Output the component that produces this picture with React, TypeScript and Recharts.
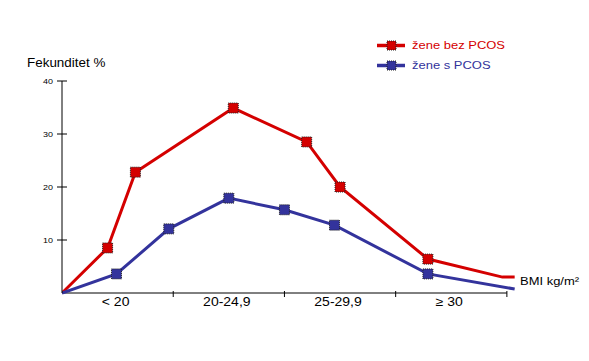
import React from 'react';
import { LineChart, Line, XAxis, YAxis, ReferenceLine } from 'recharts';

// BMI position along the axis: 0..4, one unit per category band
const bmiBands = ['< 20', '20-24,9', '25-29,9', '≥ 30'];
const yTicks = [10, 20, 30, 40];
const seriesNames = ['žene bez PCOS', 'žene s PCOS'];

const withoutPcosX = [0, 0.41, 0.66, 1.54, 2.2, 2.5, 3.29, 3.96, 4.07];
const withoutPcosY = [0, 8.5, 22.8, 34.9, 28.5, 20.0, 6.4, 3.0, 3.0];
const withoutPcosMarked = [false, true, true, true, true, true, true, false, false];

const withPcosX = [0, 0.49, 0.96, 1.5, 2.0, 2.45, 3.29, 4.07];
const withPcosY = [0, 3.6, 12.1, 17.9, 15.7, 12.8, 3.6, 0.75];
const withPcosMarked = [false, true, true, true, true, true, true, false];

const RED = '#d40000';
const BLUE = '#33339c';
const FONT = '"Liberation Sans", Arial, sans-serif';
const STRETCH = 1.12; // the source picture is a bit wider than tall

const build = (xs: number[], ys: number[], marked: boolean[]) =>
  xs.map((x, i) => ({ x, y: ys[i], marked: marked[i] }));

const redData = build(withoutPcosX, withoutPcosY, withoutPcosMarked);
const blueData = build(withPcosX, withPcosY, withPcosMarked);

const squareDot = (fill: string) => (props: any) => {
  const { cx, cy, payload, index } = props;
  if (!payload || !payload.marked) return <g key={`d-${index}`} />;
  return (
    <rect
      key={`d-${index}`}
      x={cx - 5}
      y={cy - 5}
      width={10}
      height={10}
      fill={fill}
      stroke="#222"
      strokeWidth={1}
      strokeDasharray="1 1"
    />
  );
};

const Stretched = ({ x, y, size, anchor = 'start', fill = '#000', children }: any) => (
  <text
    transform={`translate(${x},${y}) scale(${STRETCH},1)`}
    x={0}
    y={0}
    textAnchor={anchor}
    fontSize={size}
    fontFamily={FONT}
    fill={fill}
  >
    {children}
  </text>
);

const XTick = ({ x, y, payload }: any) => {
  const v = payload.value;
  if (Number.isInteger(v)) {
    return <line x1={x} x2={x} y1={y - 2} y2={y + 4} stroke="#000" strokeWidth={1} />;
  }
  return (
    <Stretched x={x - 2} y={y + 13} size={12.5} anchor="middle">
      {bmiBands[Math.floor(v)]}
    </Stretched>
  );
};

const YTick = ({ x, y, payload }: any) => (
  <g>
    <line x1={x - 5} x2={x + 5} y1={y} y2={y} stroke="#000" strokeWidth={1} />
    <Stretched x={x - 9} y={y + 3} size={8} anchor="end">
      {payload.value}
    </Stretched>
  </g>
);

const Overlay = () => (
  <svg
    width={589}
    height={361}
    style={{ position: 'absolute', left: 0, top: 0, pointerEvents: 'none' }}
  >
    <Stretched x={27} y={67} size={12}>Fekunditet %</Stretched>
    <Stretched x={520} y={284.5} size={11.6}>BMI kg/m²</Stretched>
    {[RED, BLUE].map((color, i) => {
      const cy = 45.5 + i * 20;
      return (
        <g key={color}>
          <line x1={377} x2={405} y1={cy} y2={cy} stroke={color} strokeWidth={3.5} />
          <rect x={387} y={cy - 4.5} width={9} height={9} fill={color} stroke="#222" strokeDasharray="1 1" />
          <Stretched x={412} y={cy + 3} size={11.6} fill={color}>
            {seriesNames[i]}
          </Stretched>
        </g>
      );
    })}
  </svg>
);

export default function App() {
  return (
    <div style={{ position: 'absolute', left: 0, top: 0, width: 589, height: 361, background: '#fff' }}>
      <LineChart width={589} height={361} margin={{ top: 81, right: 71, bottom: 43, left: 0 }}>
        <XAxis
          type="number"
          dataKey="x"
          domain={[0, 4.1]}
          ticks={[0.5, 1, 1.5, 2, 2.5, 3, 3.5, 4]}
          tick={<XTick />}
          tickLine={false}
          axisLine={false}
          tickSize={0}
          tickMargin={0}
          height={25}
          interval={0}
          allowDataOverflow
        />
        <YAxis
          type="number"
          domain={[0, 40]}
          ticks={yTicks}
          tick={<YTick />}
          tickLine={false}
          tickSize={0}
          tickMargin={0}
          axisLine={{ stroke: '#000', strokeWidth: 1 }}
          width={62}
          interval={0}
        />
        <ReferenceLine
          segment={[{ x: 0, y: 0 }, { x: 4, y: 0 }]}
          stroke="#000"
          strokeWidth={1}
        />
        <Line
          data={redData}
          dataKey="y"
          stroke={RED}
          strokeWidth={3}
          dot={squareDot(RED)}
          activeDot={false}
          isAnimationActive={false}
        />
        <Line
          data={blueData}
          dataKey="y"
          stroke={BLUE}
          strokeWidth={3}
          dot={squareDot(BLUE)}
          activeDot={false}
          isAnimationActive={false}
        />
      </LineChart>
      <Overlay />
    </div>
  );
}
